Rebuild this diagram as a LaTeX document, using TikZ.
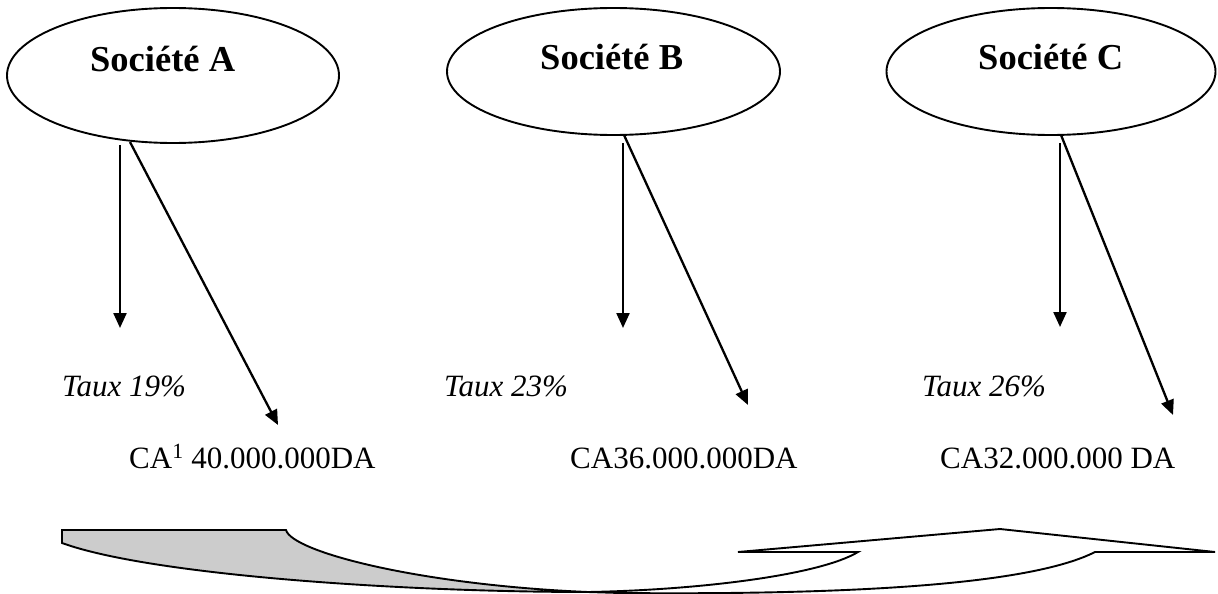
\documentclass[tikz,border=0pt]{standalone}
\usepackage{fontspec}
\setmainfont{Liberation Serif}
\usetikzlibrary{arrows.meta,shapes.geometric}

\begin{document}
\begin{tikzpicture}[x=1pt,y=-1pt,
  company/.style={draw, line width=1.9pt, ellipse, inner sep=0pt},
  cname/.style={anchor=base west, inner sep=0pt, font=\fontsize{36.5}{40}\selectfont\bfseries},
  rate/.style={anchor=base west, inner sep=0pt, font=\fontsize{31}{36}\selectfont\itshape},
  amount/.style={anchor=base west, inner sep=0pt, font=\fontsize{31}{36}\selectfont},
  link/.style={line width=2.3pt, -{Triangle[length=15pt,width=13pt]}},
  band/.style={draw, line width=1.9pt, line join=miter}
]
\useasboundingbox (0,0) rectangle (1218,594);

% companies
\node[company, minimum width=332pt, minimum height=135pt] (eA) at (173,75.5) {};
\node[company, minimum width=333pt, minimum height=127pt] (eB) at (613.5,71.5) {};
\node[company, minimum width=329pt, minimum height=127pt] (eC) at (1051,71.5) {};

\node[cname] (nA) at (90,72) {Société A};
\node[cname] (nB) at (540,70) {Société B};
\node[cname] (nC) at (978,70) {Société C};

% arrow end points
\coordinate (vA0) at (120,145);  \coordinate (vA1) at (120,328);
\coordinate (dA0) at (130,142);  \coordinate (dA1) at (278,425);
\coordinate (vB0) at (623,143);  \coordinate (vB1) at (623,328);
\coordinate (dB0) at (624,135);  \coordinate (dB1) at (748,405);
\coordinate (vC0) at (1060,143); \coordinate (vC1) at (1060,327);
\coordinate (dC0) at (1061,135); \coordinate (dC1) at (1173,415);

\draw[link] (vA0) -- (vA1);
\draw[link] (dA0) -- (dA1);
\draw[link] (vB0) -- (vB1);
\draw[link] (dB0) -- (dB1);
\draw[link] (vC0) -- (vC1);
\draw[link] (dC0) -- (dC1);

% rates
\node[rate] (tA) at (62,396) {Taux 19\%};
\node[rate] (tB) at (444,396) {Taux 23\%};
\node[rate] (tC) at (922,396) {Taux 26\%};

% turnovers
\node[amount] (cA) at (129,468) {CA\textsuperscript{1} 40.000.000DA};
\node[amount] (cB) at (570,468) {CA36.000.000DA};
\node[amount] (cC) at (940,468) {CA32.000.000 DA};

% curved up arrow: shaded back of the band
\draw[band, fill=gray!40]
  (62,530) -- (286,530)
  .. controls (292,552) and (420,585) .. (588,592)
  .. controls (400,592) and (150,575) .. (62,543) -- cycle;

% curved up arrow: front of the band with its head
\draw[band, fill=white]
  (588,592) .. controls (700,590) and (820,575) .. (858,552)
  -- (738,552) -- (1000,529) -- (1215,552) -- (1095,552)
  .. controls (1030,585) and (850,595) .. (620,593) -- cycle;
\end{tikzpicture}
\end{document}
